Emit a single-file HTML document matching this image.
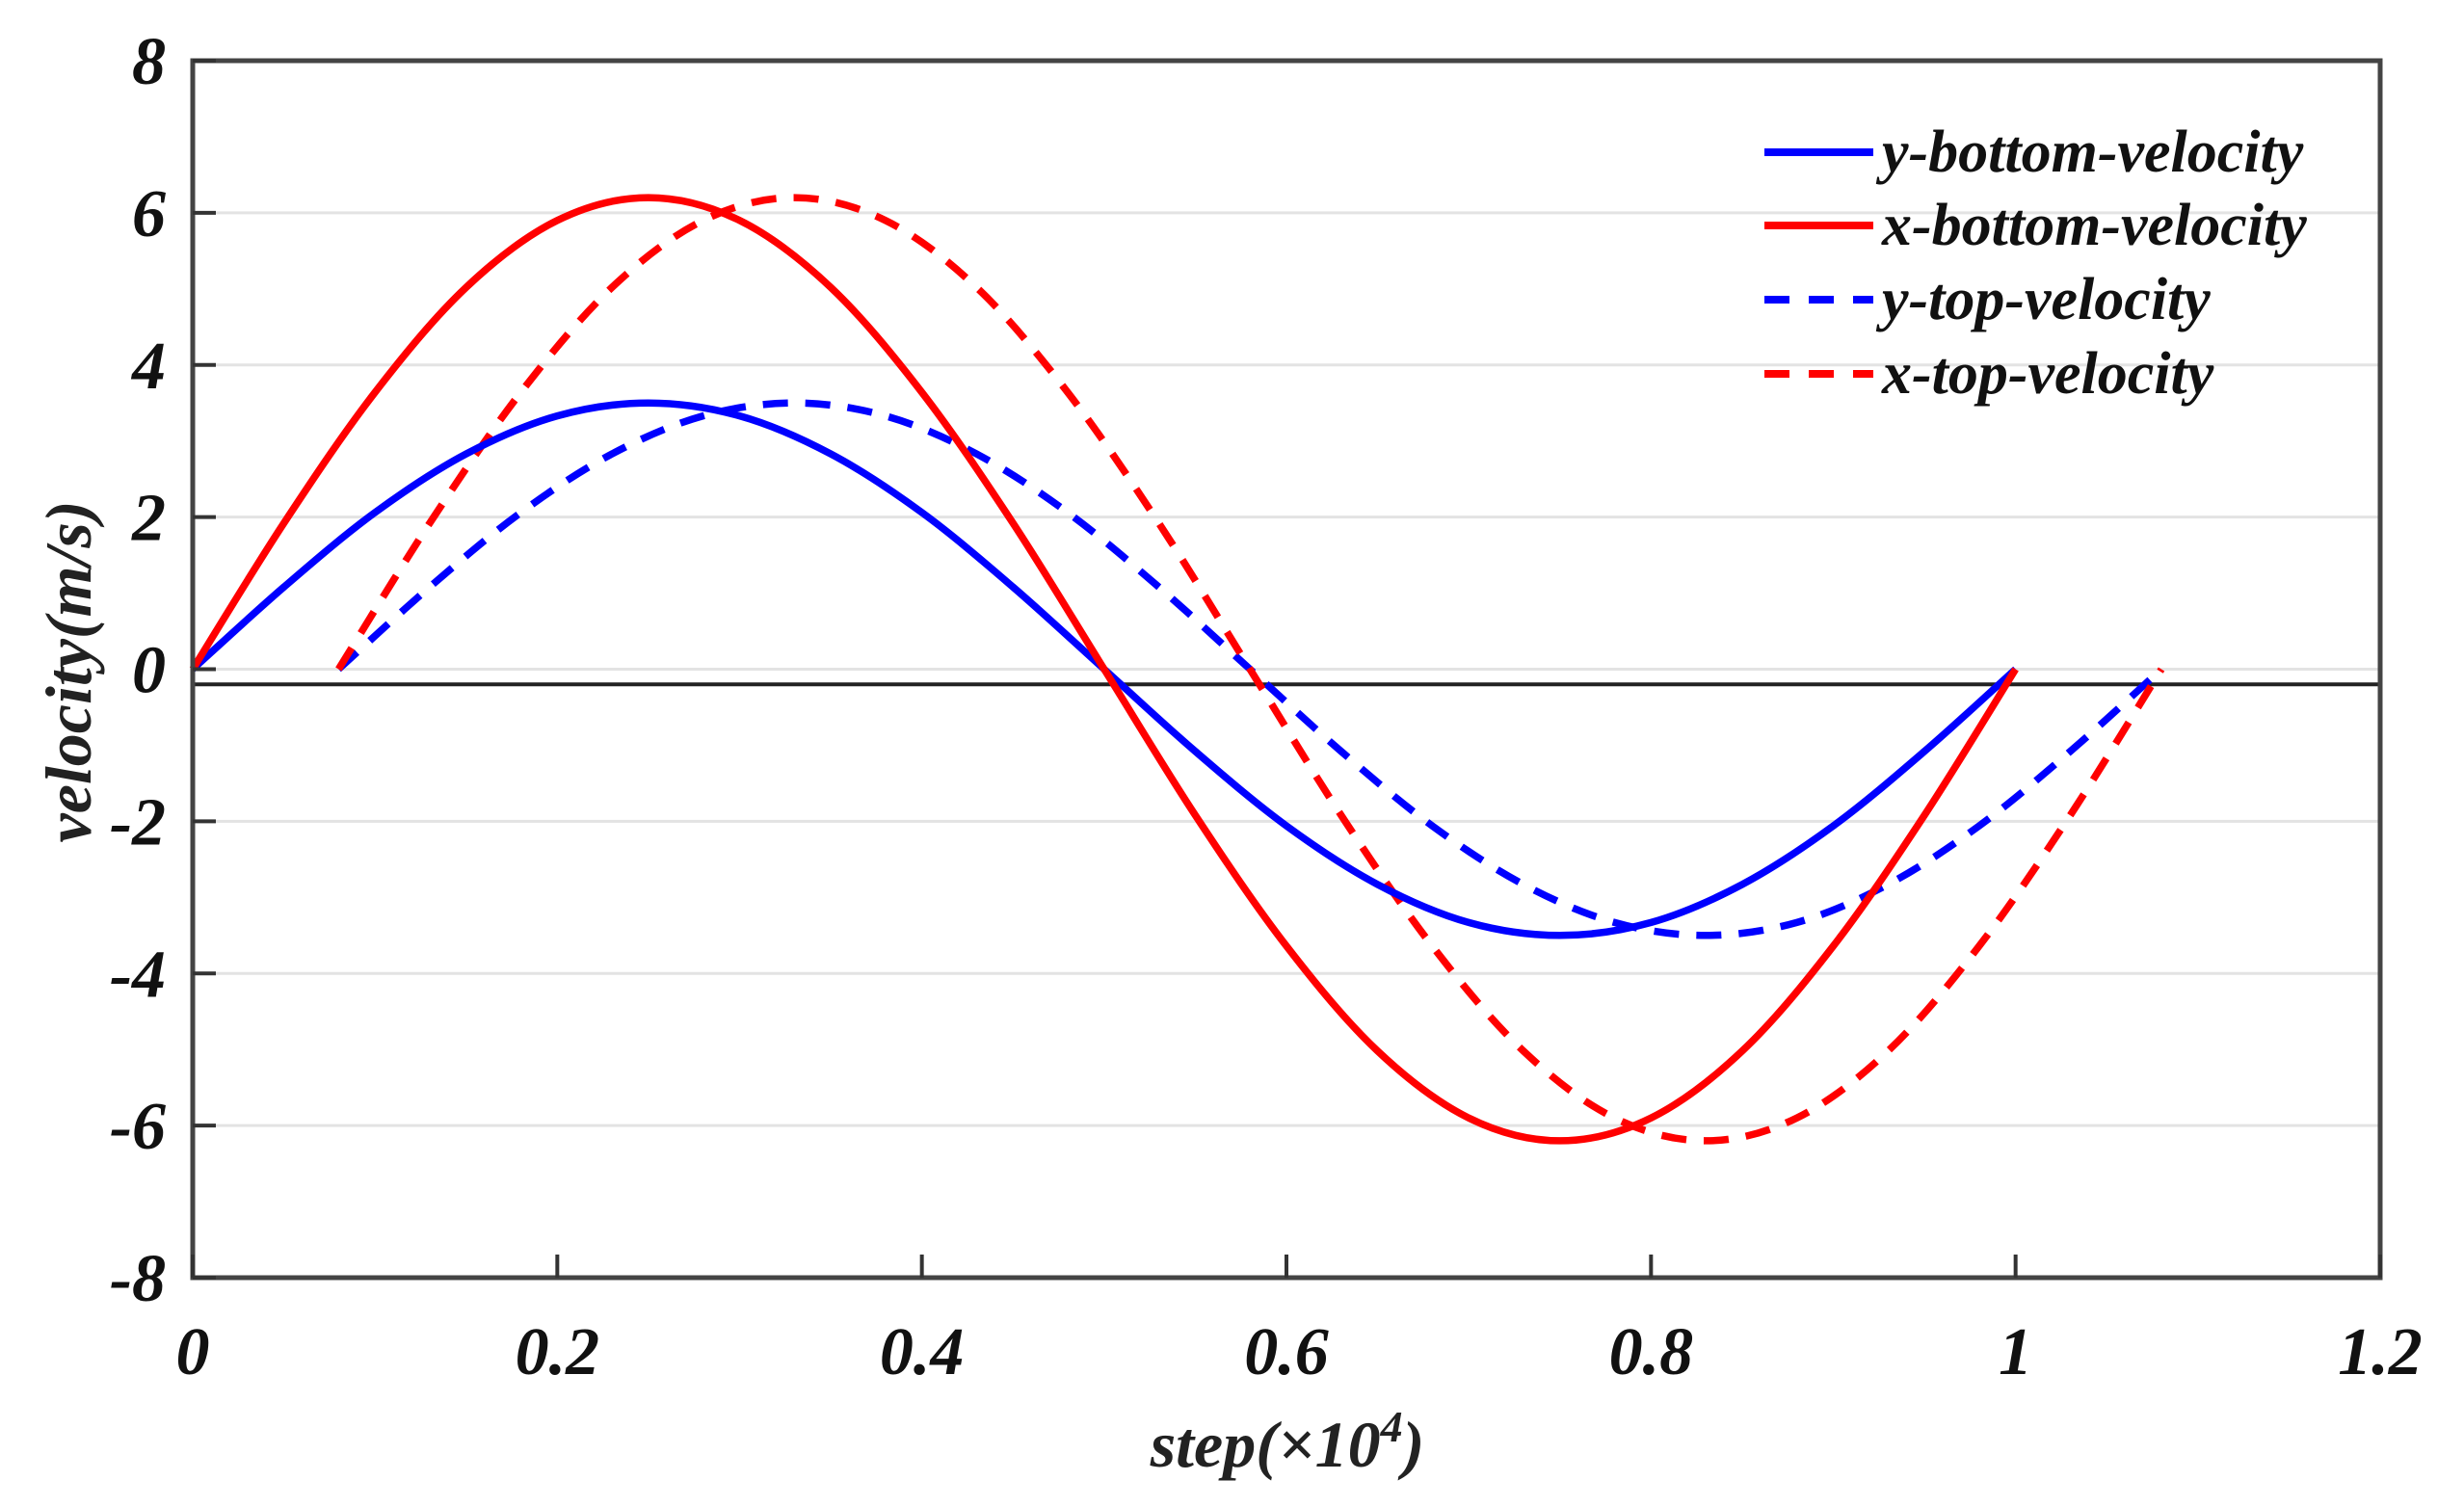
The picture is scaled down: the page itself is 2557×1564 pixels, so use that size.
<!DOCTYPE html>
<html><head><meta charset="utf-8"><style>
html,body{margin:0;padding:0;background:#fff;}
svg{display:block;font-family:"Liberation Serif",serif;font-style:italic;font-weight:bold;}
</style></head><body>
<svg id="chart" width="2557" height="1564" viewBox="0 0 2557 1564"></svg>
<script>
const xTicks=[0,0.2,0.4,0.6,0.8,1,1.2];
const xTickLabels=["0","0.2","0.4","0.6","0.8","1","1.2"];
const yTicks=[-8,-6,-4,-2,0,2,4,6,8];
const yTickLabels=["-8","-6","-4","-2","0","2","4","6","8"];
const bottomX=[0,0.05,0.1,0.15,0.2,0.25,0.3,0.35,0.4,0.45,0.5,0.55,0.6,0.65,0.7,0.75,0.8,0.85,0.9,0.95,1.0];
const topX=[0.08,0.13,0.18,0.23,0.28,0.33,0.38,0.43,0.48,0.53,0.58,0.63,0.68,0.73,0.78,0.83,0.88,0.93,0.98,1.03,1.08];
const yBottom=[0,1.08,2.06,2.83,3.33,3.5,3.33,2.83,2.06,1.08,0,-1.08,-2.06,-2.83,-3.33,-3.5,-3.33,-2.83,-2.06,-1.08,0];
const xBottom=[0,1.92,3.64,5.02,5.9,6.2,5.9,5.02,3.64,1.92,0,-1.92,-3.64,-5.02,-5.9,-6.2,-5.9,-5.02,-3.64,-1.92,0];
const yTop=[0,1.08,2.06,2.83,3.33,3.5,3.33,2.83,2.06,1.08,0,-1.08,-2.06,-2.83,-3.33,-3.5,-3.33,-2.83,-2.06,-1.08,0];
const xTop=[0,1.92,3.64,5.02,5.9,6.2,5.9,5.02,3.64,1.92,0,-1.92,-3.64,-5.02,-5.9,-6.2,-5.9,-5.02,-3.64,-1.92,0];
const refLine=-0.2;

const L=200,R=2470,T=63,B=1326;
const sx=v=>L+(v-0)/(1.2-0)*(R-L);
const sy=v=>B-(v+8)/16*(B-T);
const svg=document.getElementById('chart');
const NS='http://www.w3.org/2000/svg';
function mk(tag,attrs,parent){const e=document.createElementNS(NS,tag);for(const k in attrs)e.setAttribute(k,attrs[k]);(parent||svg).appendChild(e);return e;}

yTicks.forEach((v,i)=>{
  if(v===8||v===-8)return;
  const g=mk('line',{x1:L,x2:R,y1:sy(v),y2:sy(v),stroke:'#e3e3e3','stroke-width':3});
  
  
});
const rl=mk('line',{x1:L,x2:R,y1:sy(refLine),y2:sy(refLine),stroke:'#222','stroke-width':4});



function path(xs,ys){
  const p=xs.map((x,i)=>[sx(x),sy(ys[i])]);
  let d='M'+p[0][0]+','+p[0][1];
  for(let i=0;i<p.length-1;i++){
    const p0=p[i-1]||p[i],p1=p[i],p2=p[i+1],p3=p[i+2]||p[i+1];
    const c1=[p1[0]+(p2[0]-p0[0])/6,p1[1]+(p2[1]-p0[1])/6];
    const c2=[p2[0]-(p3[0]-p1[0])/6,p2[1]-(p3[1]-p1[1])/6];
    d+=' C'+c1+' '+c2+' '+p2;
  }
  return d;
}
const series=[
  {xs:topX,ys:yTop,c:'#0000ff',dash:'26 18',name:'y-top-velocity-line'},
  {xs:topX,ys:xTop,c:'#ff0000',dash:'26 18',name:'x-top-velocity-line'},
  {xs:bottomX,ys:yBottom,c:'#0000ff',dash:'',name:'y-bottom-velocity-line'},
  {xs:bottomX,ys:xBottom,c:'#ff0000',dash:'',name:'x-bottom-velocity-line'}
];
series.forEach(s=>{
  const e=mk('path',{d:path(s.xs,s.ys),fill:'none',stroke:s.c,'stroke-width':7.5,'stroke-dasharray':s.dash});
  
  
});

const box=mk('rect',{x:L,y:T,width:R-L,height:B-T,fill:'none',stroke:'#444','stroke-width':5});



xTicks.forEach((v,i)=>{
  const t=mk('line',{x1:sx(v),x2:sx(v),y1:B,y2:B-24,stroke:'#333','stroke-width':4});
  
  
  const tx=mk('text',{x:sx(v),y:B+100,'text-anchor':'middle','font-size':70,fill:'#111'});
  tx.textContent=xTickLabels[i];
  
  
});
yTicks.forEach((v,i)=>{
  const t=mk('line',{x1:L,x2:L+24,y1:sy(v),y2:sy(v),stroke:'#333','stroke-width':4});
  
  
  const tx=mk('text',{x:L-28,y:sy(v)+24,'text-anchor':'end','font-size':70,fill:'#111'});
  tx.textContent=yTickLabels[i];
  
  
});

const xt=mk('text',{x:1336,y:1522,'text-anchor':'middle','font-size':68,fill:'#222'});
xt.innerHTML='step(×10<tspan dy="-26" font-size="46">4</tspan><tspan dy="26">)</tspan>';


const yt=mk('text',{x:0,y:0,'text-anchor':'middle','font-size':68,fill:'#222',transform:'translate(94,697) rotate(-90)'});
yt.textContent='velocity(m/s)';



const leg=[
  {label:'y-bottom-velocity',c:'#0000ff',dash:''},
  {label:'x-bottom-velocity',c:'#ff0000',dash:''},
  {label:'y-top-velocity',c:'#0000ff',dash:'26 20'},
  {label:'x-top-velocity',c:'#ff0000',dash:'26 20'}
];
const legRows=[158,234,311,388];
leg.forEach((l,i)=>{
  const g=mk('g',{});
  
  
  mk('line',{x1:1831,x2:1944,y1:legRows[i],y2:legRows[i],stroke:l.c,'stroke-width':8,'stroke-dasharray':l.dash},g);
  const t=mk('text',{x:1953,y:legRows[i]+20,'font-size':62,fill:'#111'},g);
  t.textContent=l.label;
});
</script>
</body></html>
